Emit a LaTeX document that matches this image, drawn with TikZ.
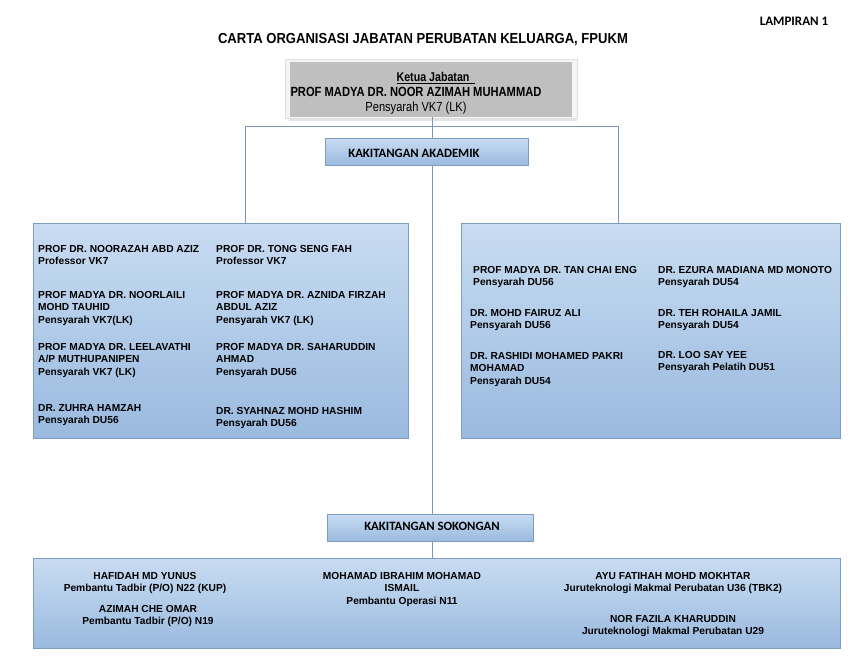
\documentclass[tikz,border=0pt]{standalone}
\usepackage{fontspec}
\setmainfont{Liberation Sans}
\newfontfamily\narrowfont[FakeStretch=0.84]{Liberation Sans}
\newfontfamily\titlefont[FakeStretch=0.9]{Liberation Sans}
\newfontfamily\calfont{Carlito}
\definecolor{boxtop}{HTML}{C8DCF2}
\definecolor{boxbot}{HTML}{9ABADF}
\definecolor{boxedge}{HTML}{7E9CC0}
\definecolor{linecol}{HTML}{7797BC}
\definecolor{headgray}{HTML}{BFBFBF}
\tikzset{
  groupbox/.style={draw=boxedge, line width=1pt, top color=boxtop, bottom color=boxbot, inner sep=0pt},
  labelbox/.style={draw=boxedge, line width=1pt, top color=boxtop, bottom color=boxbot, inner sep=0pt},
  conn/.style={draw=linecol, line width=0.9pt},
  person/.style={anchor=north west, inner sep=0pt, align=left, font=\bfseries\fontsize{10.2}{12.6}\selectfont},
  cperson/.style={anchor=north, inner sep=0pt, align=center, font=\bfseries\fontsize{10.2}{12.6}\selectfont},
  labeltext/.style={inner sep=0pt, font=\calfont\bfseries\fontsize{12.7}{14}\selectfont},
}
\begin{document}
\begin{tikzpicture}[x=1pt,y=-1pt]
\useasboundingbox (0,0) rectangle (862,665);
\fill[white] (0,0) rectangle (862,665);

% titles
\node[inner sep=0pt, font=\calfont\bfseries\fontsize{13}{15}\selectfont] (lampiran) at (794,21) {LAMPIRAN 1};
\node[inner sep=0pt, font=\titlefont\bfseries\fontsize{14.5}{16}\selectfont] (title) at (423,40) {CARTA ORGANISASI JABATAN PERUBATAN KELUARGA, FPUKM};

% head box
\fill[black!10] (289,64) rectangle (577,121);
\node[draw=black!12, line width=0.6pt, fill=white!96!black, minimum width=292pt, minimum height=59pt, inner sep=0pt] (headframe) at (431,89) {};
\node[fill=headgray, minimum width=282pt, minimum height=55pt, inner sep=0pt] (head) at (431,89) {};
\node[inner sep=0pt, font=\narrowfont\bfseries\fontsize{12.7}{14}\selectfont] (ketua) at (436,78) {\underline{Ketua Jabatan\ \ }};
\node[inner sep=0pt, font=\narrowfont\bfseries\fontsize{13.3}{15}\selectfont] (headname) at (416,92) {PROF MADYA DR. NOOR AZIMAH MUHAMMAD};
\node[inner sep=0pt, font=\narrowfont\fontsize{13.2}{15}\selectfont] (headpos) at (416,108) {Pensyarah VK7 (LK)};

% label boxes
\node[labelbox, minimum width=203pt, minimum height=27pt] (akad) at (426.5,151.5) {};
\node[labeltext] (akadtext) at (414,153) {KAKITANGAN AKADEMIK};
\node[labelbox, minimum width=206pt, minimum height=27pt] (sok) at (430,527.5) {};
\node[labeltext] (soktext) at (432,526) {KAKITANGAN SOKONGAN};

% group boxes
\node[groupbox, minimum width=375pt, minimum height=215pt] (lbox) at (220.5,330.5) {};
\node[groupbox, minimum width=379pt, minimum height=215pt] (rbox) at (650.5,330.5) {};
\node[groupbox, minimum width=807pt, minimum height=90pt] (bbox) at (436.5,603) {};

% connectors
\coordinate (j) at (432,126);
\coordinate (jl) at (245,126);
\coordinate (jr) at (618,126);
\draw[conn] (head.south -| j) -- (j);
\draw[conn] (lbox.north -| jl) -- (jl) -- (jr) -- (rbox.north -| jr);
\draw[conn] (j) -- (akad.north -| j);
\draw[conn] (akad.south -| j) -- (sok.north -| j);
\draw[conn] (sok.south -| j) -- (bbox.north -| j);

% left box people
\node[person] (p1) at (38,245) {PROF DR. NOORAZAH ABD AZIZ\\Professor VK7};
\node[person] (p2) at (38,291) {PROF MADYA DR. NOORLAILI\\MOHD TAUHID\\Pensyarah VK7(LK)};
\node[person] (p3) at (38,343) {PROF MADYA DR. LEELAVATHI\\A/P MUTHUPANIPEN\\Pensyarah VK7 (LK)};
\node[person] (p4) at (38,404) {DR. ZUHRA HAMZAH\\Pensyarah DU56};
\node[person] (p5) at (216,245) {PROF DR. TONG SENG FAH\\Professor VK7};
\node[person] (p6) at (216,291) {PROF MADYA DR. AZNIDA FIRZAH\\ABDUL AZIZ\\Pensyarah VK7 (LK)};
\node[person] (p7) at (216,343) {PROF MADYA DR. SAHARUDDIN\\AHMAD\\Pensyarah DU56};
\node[person] (p8) at (216,407) {DR. SYAHNAZ MOHD HASHIM\\Pensyarah DU56};

% right box people
\node[person] (r1) at (473,266) {PROF MADYA DR. TAN CHAI ENG\\Pensyarah DU56};
\node[person] (r2) at (470,309) {DR. MOHD FAIRUZ ALI\\Pensyarah DU56};
\node[person] (r3) at (470,352) {DR. RASHIDI MOHAMED PAKRI\\MOHAMAD\\Pensyarah DU54};
\node[person] (r4) at (658,266) {DR. EZURA MADIANA MD MONOTO\\Pensyarah DU54};
\node[person] (r5) at (658,309) {DR. TEH ROHAILA JAMIL\\Pensyarah DU54};
\node[person] (r6) at (658,351) {DR. LOO SAY YEE\\Pensyarah Pelatih DU51};

% bottom box people
\node[cperson] (b1) at (145,572) {HAFIDAH MD YUNUS\\Pembantu Tadbir (P/O) N22 (KUP)};
\node[cperson] (b2) at (148,605) {AZIMAH CHE OMAR\\Pembantu Tadbir (P/O) N19};
\node[cperson] (b3) at (402,572) {MOHAMAD IBRAHIM MOHAMAD\\ISMAIL\\Pembantu Operasi N11};
\node[cperson] (b4) at (673,572) {AYU FATIHAH MOHD MOKHTAR\\Juruteknologi Makmal Perubatan U36 (TBK2)};
\node[cperson] (b5) at (673,615) {NOR FAZILA KHARUDDIN\\Juruteknologi Makmal Perubatan U29};
\end{tikzpicture}
\end{document}
